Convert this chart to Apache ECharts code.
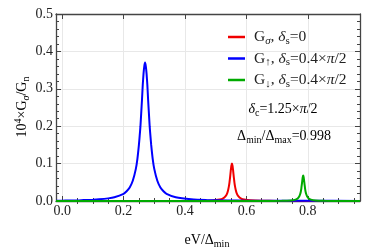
<!DOCTYPE html>
<html><head><meta charset="utf-8">
<script src="https://cdn.jsdelivr.net/npm/echarts@6/dist/echarts.min.js"></script>
<style>html,body{margin:0;padding:0;background:#fff}#c{width:374px;height:249px}</style>
</head><body><div id="c"></div>
<script>
// x tick labels
const xMajor = [0, 0.2, 0.4, 0.6, 0.8];
const xMinor = [0.05,0.1,0.15,0.25,0.3,0.35,0.45,0.5,0.55,0.65,0.7,0.75,0.85,0.9,0.95];
const yTicks = [0, 0.1, 0.2, 0.3, 0.4, 0.5];
const seriesNames = ['Gσ', 'G↑', 'G↓'];
// G_up (blue)
const blueData = [
 [-0.02,0.0009],[0.0,0.0010],[0.05,0.0014],[0.07,0.0025],[0.1,0.0035],[0.12,0.0045],[0.15,0.007],
 [0.17,0.0098],[0.2,0.019],[0.21,0.026],[0.22,0.036],[0.23,0.054],[0.24,0.086],[0.245,0.112],
 [0.25,0.15],[0.2525,0.174],[0.255,0.2],[0.2575,0.235],[0.26,0.27],[0.2625,0.31],[0.265,0.34],
 [0.2675,0.36],[0.27,0.37],[0.2725,0.36],[0.275,0.34],[0.2775,0.31],[0.28,0.27],[0.2825,0.235],
 [0.285,0.2],[0.2875,0.174],[0.29,0.15],[0.295,0.112],[0.3,0.086],[0.31,0.054],[0.32,0.036],
 [0.33,0.026],[0.34,0.019],[0.37,0.0098],[0.42,0.0045],[0.47,0.0025],[0.54,0.0014],[0.6,0.001],
 [0.7,0.0006],[0.8,0.0004],[0.97,0.0003]
];
// G_sigma (red)
const redData = [
 [-0.02,0.0001],[0.2,0.0001],[0.4,0.0003],[0.45,0.0005],[0.49,0.0012],[0.513,0.0038],[0.523,0.0066],
 [0.533,0.014],[0.538,0.022],[0.541,0.031],[0.543,0.039],[0.545,0.05],[0.547,0.064],[0.549,0.08],
 [0.551,0.094],[0.553,0.10],[0.555,0.094],[0.557,0.08],[0.559,0.064],[0.561,0.05],[0.563,0.039],
 [0.565,0.031],[0.568,0.022],[0.573,0.014],[0.583,0.0066],[0.593,0.0038],[0.613,0.0017],
 [0.65,0.0006],[0.7,0.0003],[0.97,0.0001]
];
// G_down (green)
const greenData = [
 [-0.02,0.0001],[0.5,0.0001],[0.65,0.0002],[0.715,0.0005],[0.745,0.0015],[0.76,0.0037],[0.767,0.0068],
 [0.772,0.012],[0.775,0.018],[0.777,0.024],[0.779,0.034],[0.7805,0.044],[0.782,0.054],[0.7835,0.064],
 [0.785,0.068],[0.7865,0.064],[0.788,0.054],[0.7895,0.044],[0.791,0.034],[0.793,0.024],[0.795,0.018],
 [0.798,0.012],[0.803,0.0068],[0.81,0.0037],[0.825,0.0015],[0.855,0.0005],[0.9,0.0002],[0.97,0.0001]
];

const FONT = 'Liberation Serif';
const TXT = '#222';
const FRAME = '#444';
const FS = 14;
const rich = {
  n: {fontFamily: FONT, fontSize: FS, color: TXT},
  i: {fontFamily: FONT, fontSize: FS, color: TXT, fontStyle: 'italic'},
  sub: {fontFamily: FONT, fontSize: 10, color: TXT, padding: [8,0,0,0]},
  subi: {fontFamily: FONT, fontSize: 10, color: TXT, fontStyle: 'italic', padding: [8,0,0,0]},
  sup: {fontFamily: FONT, fontSize: 10, color: TXT, padding: [0,0,8,0]}
};
const LF = 15.5;
const legRich = {
  n: {fontFamily: FONT, fontSize: LF, color: TXT},
  i: {fontFamily: FONT, fontSize: LF, color: TXT, fontStyle: 'italic'},
  sub: {fontFamily: FONT, fontSize: 11, color: TXT, padding: [8,0,0,0]},
  subi: {fontFamily: FONT, fontSize: 11, color: TXT, fontStyle: 'italic', padding: [8,0,0,0]}
};
const legendText = {
  'Gσ': '{n|G}{subi|σ}{n|, }{i|δ}{sub|s}{n|=0}',
  'G↑': '{n|G}{sub|↑}{n|, }{i|δ}{sub|s}{n|=0.4×}{i|π}{n|/2}',
  'G↓': '{n|G}{sub|↓}{n|, }{i|δ}{sub|s}{n|=0.4×}{i|π}{n|/2}'
};
const colors = {'Gσ':'#f00000','G↑':'#0000ff','G↓':'#00aa00'};
const dataMap = {'Gσ':redData,'G↑':blueData,'G↓':greenData};

const xBase = {type:'value', min:-0.02, max:0.97, gridIndex:0};
const chart = echarts.init(document.getElementById('c'), null, {renderer:'canvas'});
chart.setOption({
  animation:false,
  grid:{left:56, right:14, top:14, bottom:48},
  xAxis:[
    Object.assign({}, xBase, {position:'bottom',
      axisLine:{show:true, onZero:false, lineStyle:{color:FRAME, width:1.3}},
      axisTick:{show:true, inside:true, length:5, customValues:xMajor, lineStyle:{color:FRAME}},
      axisLabel:{customValues:xMajor, formatter:v=>v.toFixed(1), fontFamily:FONT, fontSize:FS, color:TXT, margin:3},
      splitLine:{show:true, lineStyle:{color:'#e8e8e8'}}}),
    Object.assign({}, xBase, {position:'bottom',
      axisLine:{show:false}, axisTick:{show:true, inside:true, length:3, customValues:xMinor, lineStyle:{color:FRAME}},
      axisLabel:{show:false}, splitLine:{show:false}}),
    Object.assign({}, xBase, {position:'top',
      axisLine:{show:true, onZero:false, lineStyle:{color:FRAME, width:1.3}},
      axisTick:{show:true, inside:true, length:5, customValues:xMajor, lineStyle:{color:FRAME}},
      axisLabel:{show:false}, splitLine:{show:false}}),
    Object.assign({}, xBase, {position:'top',
      axisLine:{show:false}, axisTick:{show:true, inside:true, length:3, customValues:xMinor, lineStyle:{color:FRAME}},
      axisLabel:{show:false}, splitLine:{show:false}})
  ],
  yAxis:[
    {type:'value', min:0, max:0.5, interval:0.1, position:'left',
      axisLine:{show:true, onZero:false, lineStyle:{color:FRAME, width:1.3}},
      axisTick:{show:true, inside:true, length:5, lineStyle:{color:FRAME}},
      minorTick:{show:true, splitNumber:5, length:3, lineStyle:{color:FRAME}},
      axisLabel:{formatter:v=>v.toFixed(1), fontFamily:FONT, fontSize:FS, color:TXT, margin:3},
      splitLine:{show:true, lineStyle:{color:'#e8e8e8'}}},
    {type:'value', min:0, max:0.5, interval:0.1, position:'right',
      axisLine:{show:true, onZero:false, lineStyle:{color:FRAME, width:1.3}},
      axisTick:{show:true, inside:true, length:5, lineStyle:{color:FRAME}},
      minorTick:{show:true, splitNumber:5, length:3, lineStyle:{color:FRAME}},
      axisLabel:{show:false}, splitLine:{show:false}}
  ],
  legend:{orient:'vertical', left:228, top:29, padding:0, itemGap:4, itemWidth:17, itemHeight:2.5,
    icon:'rect', data:seriesNames,
    formatter:name=>legendText[name],
    textStyle:{rich:legRich, padding:[0,0,0,4]}},
  series: seriesNames.map(nm=>({
    name:nm, type:'line', xAxisIndex:0, yAxisIndex:0, data:dataMap[nm], showSymbol:false,
    smooth:0.2, lineStyle:{width:2, color:colors[nm]}, itemStyle:{color:colors[nm]},
    z: nm==='G↓'?4:(nm==='G↑'?3:2)
  })),
  graphic:[
    {type:'text', x:22, y:107, rotation:Math.PI/2, style:{text:'{n|10}{sup|4}{n|×G}{subi|σ}{n|/G}{sub|n}', rich:rich, align:'center', verticalAlign:'middle'}},
    {type:'text', x:207, y:240, style:{text:'{n|eV/Δ}{sub|min}', rich:rich, align:'center', verticalAlign:'middle'}},
    {type:'text', x:283, y:109, style:{text:'{i|δ}{sub|c}{n|=1.25×}{i|π}{n|/2}', rich:rich, align:'center', verticalAlign:'middle'}},
    {type:'text', x:284, y:136, style:{text:'{n|Δ}{sub|min}{n|/Δ}{sub|max}{n|=0.998}', rich:rich, align:'center', verticalAlign:'middle'}}
  ]
});
</script></body></html>
